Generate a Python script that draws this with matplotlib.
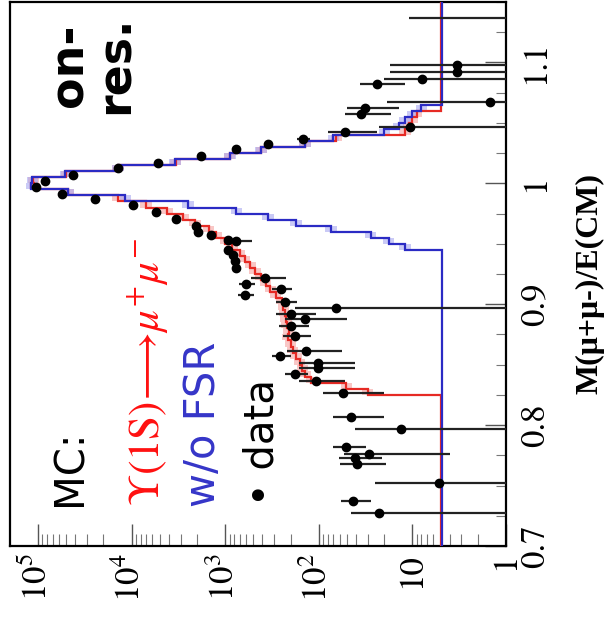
import numpy as np
import matplotlib
matplotlib.use("Agg")
import matplotlib.pyplot as plt
from matplotlib.ticker import FixedLocator, FixedFormatter, MultipleLocator, NullFormatter

plt.rcParams['mathtext.fontset'] = 'stix'

# ---------------- data ----------------
bin_lo, bin_hi, n_bins = 0.70, 1.15, 90
floor_level = 5.0

red_fsr = ([5.0] * 25 +
           [30, 51, 120, 140, 150, 160, 175, 190, 200, 215, 210, 220, 225, 230, 240,
            250, 290, 330, 370, 420, 480, 540, 620, 700, 850, 1000, 1250, 1500, 2100,
            2800, 4200, 7000, 14000, 48000, 110000, 112000, 50000, 14000, 3400, 900,
            410, 140, 65, 12, 11, 10, 9] +
           [5.0] * 18)

blue_nofsr = ([4.8] * 49 +
              [12, 18, 28, 74, 175, 350, 760, 2500, 11700, 48000, 118000, 115000,
               51000, 14000, 3450, 890, 414, 140, 70, 20, 14, 12, 10, 8] +
              [4.8] * 17)

data_mass = [1.1370, 1.0975, 1.0920, 1.0860, 1.0820, 1.0670, 1.0620, 1.0570, 1.0465,
             1.0424, 1.0366, 1.0325, 1.0284, 1.0226, 1.0169, 1.0128, 1.0070, 1.0020,
             0.9970, 0.9914, 0.9870, 0.9823, 0.9765, 0.9708, 0.9649, 0.9600, 0.9576,
             0.9535, 0.9520, 0.9450, 0.9410, 0.9354, 0.9296, 0.9214, 0.9165, 0.9130,
             0.9080, 0.9020, 0.8967, 0.8918, 0.8877, 0.8820, 0.8737, 0.8613, 0.8570,
             0.8514, 0.8473, 0.8424, 0.8366, 0.8267, 0.8070, 0.7970, 0.7820, 0.7765,
             0.7724, 0.7675, 0.7520, 0.7370, 0.7270]
data_count = [0.8, 3.3, 3.3, 7.9, 24, 1.5, 32, 35, 10.6,
              52, 148, 350, 770, 1800, 5200, 14000, 42000, 85000,
              105000, 56000, 24500, 9600, 5500, 3360, 2050, 1960, 1420,
              930, 770, 930, 820, 780, 770, 375, 600, 253,
              610, 230, 65, 198, 140, 198, 180, 137, 260,
              101, 101, 180, 107, 55, 45, 13.2, 51, 29,
              41, 39, 5.2, 43, 23]
data_err = [10, 14, 14, 12, 12, 17, 18, 18, 12,
            28, 25, 30, 40, 60, 100, 150, 300, 400,
            400, 300, 200, 130, 100, 80, 70, 70, 60,
            60, 250, 60, 60, 60, 60, 150, 120, 60,
            120, 60, 113, 90, 90, 70, 60, 80, 60,
            60, 60, 50, 55, 35, 25, 28, 20, 25,
            20, 20, 20, 15, 22]

count_ticks = [1, 10, 100, 1000, 10000, 100000]
count_labels = ['1', '10', '$10^{2}$', '$10^{3}$', '$10^{4}$', '$10^{5}$']
mass_ticks = [0.7, 0.8, 0.9, 1.0, 1.1]
mass_labels = ['0.7', '0.8', '0.9', '1', '1.1']

# ---------------- figure ----------------
W, H = 605, 631
fig = plt.figure(figsize=(W / 100, H / 100), dpi=100)
ax = fig.add_axes([10 / W, 1 - 546 / H, 496 / W, 544 / H])

edges = np.linspace(bin_lo, bin_hi, n_bins + 1)
red = np.array(red_fsr, dtype=float)
blue = np.array(blue_nofsr, dtype=float)

RED = '#e62a24'
BLUE = '#2b2bc4'

def band(vals):
    f = np.where(vals > floor_level, 1.15, 1.0)
    return vals * f, vals / f

r_hi, r_lo = band(red)
b_hi, b_lo = band(blue)
ax.stairs(r_hi, edges, baseline=r_lo, fill=True, orientation='horizontal',
          color='#f5a3a0', alpha=0.6, lw=0, zorder=2)
ax.stairs(b_hi, edges, baseline=b_lo, fill=True, orientation='horizontal',
          color='#a8a8f0', alpha=0.6, lw=0, zorder=2)
ax.stairs(red, edges, baseline=None, orientation='horizontal', color=RED, lw=1.6, zorder=3)
ax.stairs(blue, edges, baseline=None, orientation='horizontal', color=BLUE, lw=1.6, zorder=4)

ax.errorbar(data_count, data_mass, xerr=data_err, fmt='o', color='black', ms=6,
            elinewidth=1.6, ecolor='#222222', capsize=0, zorder=5)

ax.set_xscale('log')
ax.set_xlim(10 ** 5.3, 1)
ax.set_ylim(0.70, 1.15)

# count axis (bottom)
ax.xaxis.set_major_locator(FixedLocator(count_ticks))
ax.xaxis.set_major_formatter(FixedFormatter(count_labels))
ax.xaxis.set_minor_locator(FixedLocator([m * 10 ** e for e in range(0, 6) for m in range(2, 10)]))
ax.xaxis.set_minor_formatter(NullFormatter())
ax.tick_params(axis='x', which='major', direction='in', length=16, width=1.0,
               labelsize=25, pad=5, labelrotation=90, top=False, color='#555555')
ax.tick_params(axis='x', which='minor', direction='in', length=9, width=0.8,
               top=False, color='#777777')

# mass axis (right)
ax.yaxis.tick_right()
ax.yaxis.set_major_locator(FixedLocator(mass_ticks))
ax.yaxis.set_major_formatter(FixedFormatter(mass_labels))
ax.yaxis.set_minor_locator(MultipleLocator(0.025))
ax.tick_params(axis='y', which='major', direction='in', length=15, width=1.0,
               labelsize=25, pad=10, labelrotation=90, left=False, color='#555555')
ax.tick_params(axis='y', which='minor', direction='in', length=7, width=0.8,
               left=False, color='#777777')
for lab in ax.get_xticklabels() + ax.get_yticklabels():
    lab.set_fontfamily('STIXGeneral')
for lab in ax.get_yticklabels():
    lab.set_va('center')

for s in ax.spines.values():
    s.set_linewidth(1.6)

# axis title
fig.text(590 / W, 1 - 283 / H, 'M(μ+μ-)/E(CM)', rotation=90, ha='center', va='center',
         fontfamily='Liberation Serif', fontweight='bold', fontsize=23)

# annotations
fig.text(93 / W, 1 - 65 / H, 'on-\nres.', rotation=90, ha='center', va='center',
         multialignment='center', fontweight='bold', fontsize=33, linespacing=1.05)

fig.text(70 / W, 1 - 506 / H, 'MC:', rotation=90, ha='center', va='bottom',
         fontsize=29, color='black')
fig.text(148 / W, 1 - 506 / H, r'$\Upsilon\mathrm{(1S)}\!\longrightarrow\!\mu^{+}\mu^{-}$',
         rotation=90, ha='center', va='bottom', fontsize=31, color='#ff1010')
fig.text(203 / W, 1 - 507 / H, 'w/o FSR', rotation=90, ha='center', va='bottom',
         fontsize=30, color='#3535c8')
fig.text(262 / W, 1 - 506 / H, '• data', rotation=90, ha='center', va='bottom',
         fontsize=29, color='black')

fig.savefig('out.png', dpi=100)
